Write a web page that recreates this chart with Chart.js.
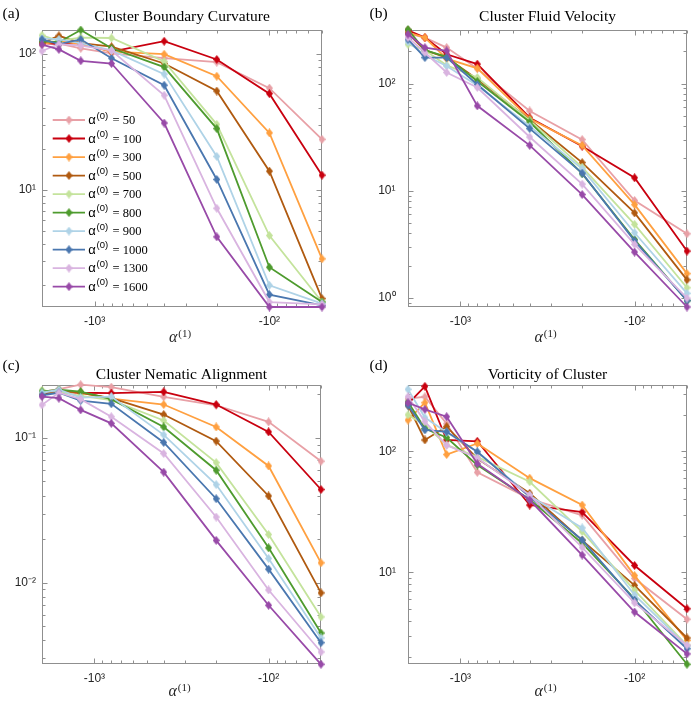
<!DOCTYPE html>
<html><head><meta charset="utf-8">
<script src="https://cdn.jsdelivr.net/npm/chart.js@4.4.0/dist/chart.umd.min.js"></script>
<style>
html,body{margin:0;padding:0;background:#fff;}
#wrap{position:relative;width:694px;height:704px;overflow:hidden;background:#fff;}
canvas{position:absolute;}
.lab{position:absolute;font-family:"Liberation Serif","Times New Roman",serif;font-size:15.5px;color:#000;line-height:1;}
</style></head><body>
<div id="wrap">
<canvas id="ca" width="347" height="352" style="left:0;top:0"></canvas>
<canvas id="cb" width="347" height="352" style="left:347px;top:0"></canvas>
<canvas id="cc" width="347" height="352" style="left:0;top:352px"></canvas>
<canvas id="cd" width="347" height="352" style="left:347px;top:352px"></canvas>
<div class="lab" style="left:2.5px;top:4.5px">(a)</div>
<div class="lab" style="left:369.5px;top:4.5px">(b)</div>
<div class="lab" style="left:2.5px;top:357px">(c)</div>
<div class="lab" style="left:369.5px;top:357px">(d)</div>
</div>
<script>
// x values: alpha^(1)
const alpha1 = [-2000, -1600, -1200, -800, -400, -200, -100, -50];
// series: alpha^(0)
const alpha0 = [50, 100, 300, 500, 700, 800, 900, 1000, 1300, 1600];
const seriesColors = ['#E8A0A6','#C9000F','#FFA040','#B05A10','#C4E39C','#4E9B2E','#AFD3E7','#4A77AF','#D9B4E0','#984AA8'];
const xTickValues = [-1000, -100];
const xTickLabels = ['-10³', '-10²'];

// (a) Cluster Boundary Curvature — one row per alpha0
const curvature = [
  [122, 119, 110, 101, 93, 87, 56, 23.5],
  [120, 118, 120, 104, 124, 91, 51, 12.8],
  [118, 124, 118, 104, 99.5, 68.5, 26.2, 3.1],
  [120, 136, 120, 113, 85, 53.3, 13.7, 1.58],
  [137, 125, 132, 131, 88, 30.3, 4.6, 1.49],
  [124, 122, 150, 110, 80, 28.2, 2.69, 1.49],
  [130, 128, 120, 106, 71, 17.6, 1.98, 1.45],
  [128, 118, 128, 93, 58.8, 11.9, 1.69, 1.41],
  [105, 118, 115, 106, 49.6, 7.3, 1.49, 1.43],
  [117, 108, 89, 85, 31, 4.5, 1.37, 1.37]
];
// (b) Cluster Fluid Velocity
const velocity = [
  [293, 269, 217, 138, 55.5, 30, 8.1, 3.96],
  [315, 269, 188, 152, 48, 26, 13.2, 2.73],
  [300, 269, 171, 139, 47, 26.5, 7.4, 1.68],
  [295, 205, 175, 110, 46, 18.3, 6.2, 1.47],
  [233, 205, 148, 114, 45.4, 16.6, 4.85, 1.24],
  [320, 205, 178, 105, 43.8, 14.4, 3.5, 0.94],
  [245, 184, 146, 96, 40, 16, 4.05, 1.1],
  [259, 175, 175, 98, 38, 14.6, 3.4, 0.94],
  [269, 195, 127, 92, 31.7, 11.5, 3.15, 0.99],
  [289, 217, 202, 62, 26.5, 9.2, 2.67, 0.82]
];
// (c) Cluster Nematic Alignment
const nematic = [
  [0.208, 0.217, 0.233, 0.224, 0.192, 0.168, 0.129, 0.069],
  [0.202, 0.208, 0.205, 0.204, 0.208, 0.17, 0.11, 0.044],
  [0.205, 0.212, 0.205, 0.187, 0.17, 0.119, 0.064, 0.0137],
  [0.202, 0.212, 0.205, 0.188, 0.145, 0.095, 0.0397, 0.0085],
  [0.213, 0.208, 0.195, 0.182, 0.132, 0.0675, 0.0215, 0.0058],
  [0.209, 0.215, 0.209, 0.185, 0.119, 0.0598, 0.0174, 0.00449],
  [0.205, 0.215, 0.19, 0.193, 0.105, 0.0476, 0.0147, 0.00415],
  [0.197, 0.205, 0.181, 0.172, 0.093, 0.038, 0.0124, 0.00385],
  [0.169, 0.205, 0.185, 0.14, 0.078, 0.0284, 0.0089, 0.00332],
  [0.193, 0.188, 0.156, 0.126, 0.058, 0.0196, 0.00698, 0.00273]
];
// (d) Vorticity of Cluster
const vorticity = [
  [272, 282, 169, 67, 40.5, 29.6, 8.9, 4.1],
  [247, 344, 124, 121, 36, 31.5, 11.4, 5.0],
  [181, 252, 94, 116, 60, 36, 9.4, 2.74],
  [240, 124, 160, 87, 45, 18.4, 7.8, 2.87],
  [200, 165, 113, 90, 56, 21.7, 7.1, 2.5],
  [255, 154, 130, 77, 40, 17.4, 6.05, 1.74],
  [325, 190, 144, 99, 43, 23.3, 6.5, 2.46],
  [240, 150, 145, 99, 42, 18.5, 5.9, 2.34],
  [282, 176, 112, 88, 43.5, 16.1, 5.6, 2.5],
  [252, 222, 193, 79, 39.6, 13.9, 4.7, 2.12]
];

const SANS = '"Liberation Sans", Arial, Helvetica, sans-serif';
const SERIF = '"Liberation Serif", "Times New Roman", serif';
const SUP = {'-':'⁻','0':'⁰','1':'¹','2':'²','3':'³','4':'⁴','5':'⁵','6':'⁶','7':'⁷','8':'⁸','9':'⁹'};

function makeDiamond(color){
  const c = document.createElement('canvas');
  const w = 7, h = 9;
  c.width = w; c.height = h;
  const g = c.getContext('2d');
  g.fillStyle = color;
  g.beginPath();
  g.moveTo(w/2, 0); g.lineTo(w, h/2); g.lineTo(w/2, h); g.lineTo(0, h/2); g.closePath();
  g.fill();
  return c;
}
const diamonds = seriesColors.map(makeDiamond);

function isPow10(v){ const l = Math.log10(v); return Math.abs(l - Math.round(l)) < 1e-9; }
function logTicks(min, max){
  const out = [];
  for (let e = Math.floor(Math.log10(min)); e <= Math.ceil(Math.log10(max)); e++){
    for (let k = 1; k <= 9; k++){
      const v = parseFloat((k * Math.pow(10, e)).toPrecision(12));
      if (v >= min * (1 - 1e-9) && v <= max * (1 + 1e-9)) out.push({value: v, major: k === 1});
    }
  }
  return out;
}
function yLabel(v){
  if (!isPow10(v)) return '';
  const e = String(Math.round(Math.log10(v)));
  return '10' + e.split('').map(ch => SUP[ch]).join('');
}
function xLabel(v){
  const i = xTickValues.findIndex(t => Math.abs(Math.abs(t) - v) < 1e-6);
  return i >= 0 ? xTickLabels[i] : '';
}

const framePlugin = {
  id: 'frame',
  beforeDatasetsDraw(chart){
    const {ctx, chartArea: a, scales: {x, y}} = chart;
    ctx.save();
    ctx.strokeStyle = '#8f8f8f';
    ctx.lineWidth = 1;
    const L = Math.round(a.left) + 0.5, R = Math.round(a.right) - 0.5;
    const T = Math.round(a.top) + 0.5, B = Math.round(a.bottom) - 0.5;
    ctx.strokeRect(L, T, R - L, B - T);
    ctx.beginPath();
    x.ticks.forEach(t => {
      const px = Math.round(x.getPixelForValue(t.value)) + 0.5;
      const len = t.major ? 5 : 3;
      ctx.moveTo(px, B); ctx.lineTo(px, B - len);
      ctx.moveTo(px, T); ctx.lineTo(px, T + len);
    });
    y.ticks.forEach(t => {
      const py = Math.round(y.getPixelForValue(t.value)) + 0.5;
      const len = t.major ? 5 : 3;
      ctx.moveTo(L, py); ctx.lineTo(L + len, py);
      ctx.moveTo(R, py); ctx.lineTo(R - len, py);
    });
    ctx.stroke();
    ctx.restore();
  }
};

// x-axis label: italic alpha with upright superscript (1)
const xTitlePlugin = {
  id: 'xTitle',
  afterDraw(chart, args, opts){
    const {ctx, chartArea: a} = chart;
    ctx.save();
    ctx.fillStyle = '#262626';
    ctx.textBaseline = 'alphabetic';
    ctx.textAlign = 'left';
    ctx.font = 'italic 16px ' + SERIF;
    const wA = ctx.measureText('α').width;
    ctx.font = '11px ' + SERIF;
    const wS = ctx.measureText('(1)').width;
    const cx = (a.left + a.right) / 2 - 2;
    const x0 = cx - (wA + wS + 1) / 2;
    ctx.font = 'italic 16px ' + SERIF;
    ctx.fillText('α', x0, opts.baseline);
    ctx.font = '11px ' + SERIF;
    ctx.fillText('(1)', x0 + wA + 1, opts.baseline - 5.5);
    ctx.restore();
  }
};

const legendPlugin = {
  id: 'customLegend',
  afterDatasetsDraw(chart){
    const ctx = chart.ctx;
    ctx.save();
    alpha0.forEach((a0, i) => {
      const yc = 120 + i * 18.52;
      ctx.strokeStyle = seriesColors[i];
      ctx.lineWidth = 1.8;
      ctx.beginPath(); ctx.moveTo(52.7, yc); ctx.lineTo(85, yc); ctx.stroke();
      const d = diamonds[i];
      ctx.drawImage(d, 69 - d.width/2, yc - d.height/2);
      ctx.fillStyle = '#000';
      ctx.textBaseline = 'alphabetic';
      ctx.textAlign = 'left';
      ctx.font = '13px ' + SANS;
      ctx.fillText('α', 88.3, yc + 4);
      ctx.font = '9.5px ' + SANS;
      ctx.fillText('(0)', 96.5, yc - 1.5);
      ctx.font = '12.5px ' + SERIF;
      ctx.fillText('= ' + a0, 112.5, yc + 4);
    });
    ctx.restore();
  }
};

const panels = [
  {id:'ca', title:'Cluster Boundary Curvature', data:curvature, yMin:1.37, yMax:150, area:[42,30,322,307], titleY:16.7, labPad:6, xBase:342, legend:true},
  {id:'cb', title:'Cluster Fluid Velocity', data:velocity, yMin:0.82, yMax:320, area:[61,29.5,340,307], titleY:16.7, labPad:12.5, xBase:342, legend:false},
  {id:'cc', title:'Cluster Nematic Alignment', data:nematic, yMin:0.00273, yMax:0.233, area:[42,32.7,321,312.3], titleY:22.7, labPad:6, xBase:344, legend:false},
  {id:'cd', title:'Vorticity of Cluster', data:vorticity, yMin:1.74, yMax:355, area:[61,32.7,340,312.3], titleY:22.7, labPad:12, xBase:344, legend:false}
];

const W = 347, H = 352;
const xMin = Math.min(...alpha1.map(Math.abs)), xMax = Math.max(...alpha1.map(Math.abs));

panels.forEach(p => {
  const [l, t, r, b] = p.area;
  const tSize = 15.5, tLH = tSize * 1.2;
  const tPadTop = p.titleY - tLH / 2;
  const tPadBot = t - tLH - tPadTop;
  new Chart(document.getElementById(p.id), {
    type: 'line',
    data: {
      datasets: alpha0.map((a0, i) => ({
        label: 'α(0) = ' + a0,
        data: alpha1.map((xv, j) => ({x: Math.abs(xv), y: p.data[i][j]})),
        borderColor: seriesColors[i],
        backgroundColor: seriesColors[i],
        borderWidth: 1.8,
        pointStyle: diamonds[i],
        pointRadius: 4,
        pointHoverRadius: 4,
        tension: 0,
        clip: false,
        order: alpha0.length - i
      }))
    },
    options: {
      responsive: false,
      animation: false,
      devicePixelRatio: 1,
      events: [],
      layout: {padding: {left: 0, right: W - r, top: 0, bottom: 0}},
      plugins: {
        legend: {display: false},
        tooltip: {enabled: false},
        xTitle: {baseline: p.xBase},
        title: {
          display: true, text: p.title, fullSize: false, color: '#000',
          font: {family: SERIF, size: tSize, weight: 'normal', lineHeight: 1.2},
          padding: {top: tPadTop, bottom: tPadBot}
        }
      },
      scales: {
        x: {
          type: 'logarithmic', reverse: true, min: xMin, max: xMax,
          grid: {display: false, drawTicks: false}, border: {display: false},
          afterFit: s => { s.height = H - b; },
          afterBuildTicks: s => { s.ticks = logTicks(xMin, xMax); },
          ticks: {autoSkip: false, maxRotation: 0, minRotation: 0, padding: 7, color: '#262626',
                  font: {family: SANS, size: 12}, callback: v => xLabel(v)},
          title: {display: false}
        },
        y: {
          type: 'logarithmic', min: p.yMin, max: p.yMax,
          grid: {display: false, drawTicks: false}, border: {display: false},
          afterFit: s => { s.width = l; },
          afterBuildTicks: s => { s.ticks = logTicks(p.yMin, p.yMax); },
          ticks: {autoSkip: false, padding: p.labPad, color: '#262626',
                  font: {family: SANS, size: 12}, callback: v => yLabel(v)}
        }
      }
    },
    plugins: p.legend ? [framePlugin, xTitlePlugin, legendPlugin] : [framePlugin, xTitlePlugin]
  });
});
</script>
</body></html>
